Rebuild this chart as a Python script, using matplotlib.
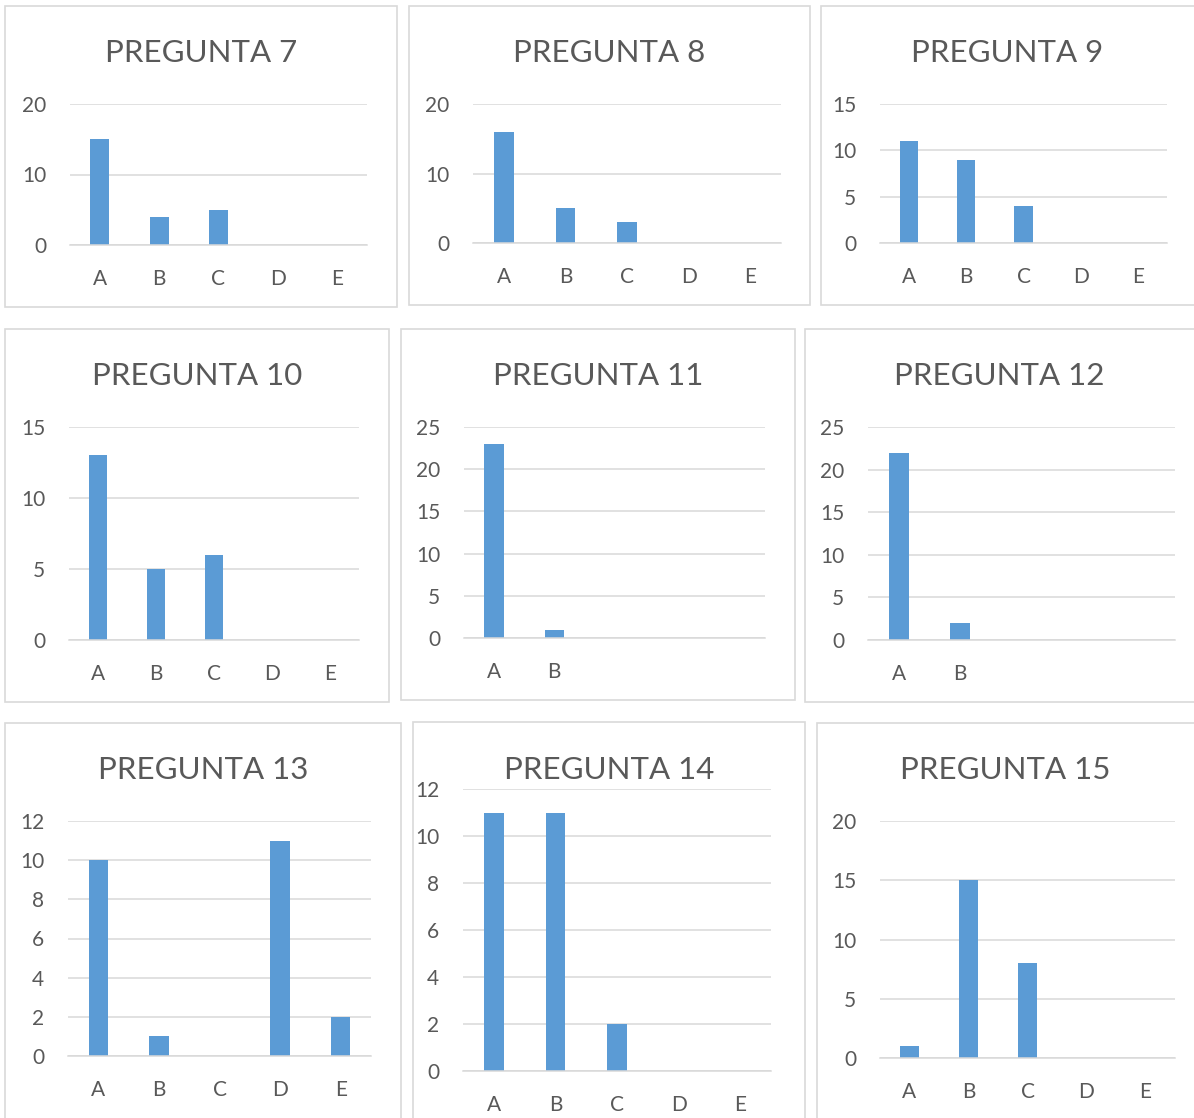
import matplotlib
matplotlib.use("Agg")
import matplotlib.pyplot as plt
from matplotlib.patches import Rectangle

plt.rcParams['font.family'] = ['Lato', 'DejaVu Sans']

# data, one list per question
letters = ['A', 'B', 'C', 'D', 'E']
titles = ['PREGUNTA 7', 'PREGUNTA 8', 'PREGUNTA 9',
          'PREGUNTA 10', 'PREGUNTA 11', 'PREGUNTA 12',
          'PREGUNTA 13', 'PREGUNTA 14', 'PREGUNTA 15']
p7 = [15, 4, 5, 0, 0]
p8 = [16, 5, 3, 0, 0]
p9 = [11, 9, 4, 0, 0]
p10 = [13, 5, 6, 0, 0]
p11 = [23, 1]
p12 = [22, 2]
p13 = [10, 1, 0, 11, 2]
p14 = [11, 11, 2, 0, 0]
p15 = [1, 15, 8, 0, 0]
values = [p7, p8, p9, p10, p11, p12, p13, p14, p15]
yticks = [[0, 10, 20], [0, 10, 20], [0, 5, 10, 15],
          [0, 5, 10, 15], [0, 5, 10, 15, 20, 25], [0, 5, 10, 15, 20, 25],
          [0, 2, 4, 6, 8, 10, 12], [0, 2, 4, 6, 8, 10, 12], [0, 5, 10, 15, 20]]

# layout in pixels: plot area (x0, x1, ytop, ybottom), box (x0, x1, y0, y1), title baseline
W, H = 1194, 1118
plot_px = [(70, 367, 104, 245), (473, 781, 104, 243), (880, 1167, 104, 243),
           (69, 359, 427, 640), (464, 765, 427, 638), (868, 1175, 427, 640),
           (68, 371, 821, 1056), (463, 771, 789, 1071), (880, 1175, 821, 1058)]
box_px = [(5, 397, 6, 307), (409, 810, 6, 305), (821, 1200, 6, 305),
          (5, 389, 329, 702), (401, 795, 329, 700), (805, 1200, 329, 702),
          (5, 401, 723, 1125), (413, 805, 722, 1125), (817, 1200, 723, 1125)]
title_y = [62, 62, 62, 385, 385, 385, 779, 779, 779]

bar_color = '#5B9BD5'
grid_color = '#D9D9D9'
text_color = '#595959'

fig = plt.figure(figsize=(W / 100, H / 100), dpi=100)

for i in range(9):
    bx0, bx1, by0, by1 = box_px[i]
    fig.patches.append(Rectangle((bx0 / W, 1 - by1 / H), (bx1 - bx0) / W, (by1 - by0) / H,
                                 transform=fig.transFigure, facecolor='white',
                                 edgecolor=grid_color, linewidth=1.2, zorder=-5))
    fig.text((bx0 + min(bx1, W)) / 2 / W, 1 - title_y[i] / H, titles[i],
             ha='center', va='baseline', fontsize=22.5, color=text_color)

    x0, x1, yt, yb = plot_px[i]
    ax = fig.add_axes([x0 / W, 1 - yb / H, (x1 - x0) / W, (yb - yt) / H])
    vals = values[i]
    ax.bar(range(len(vals)), vals, width=0.32, color=bar_color, zorder=3)
    ax.set_xlim(-0.5, 4.5)
    ax.set_ylim(0, yticks[i][-1])
    ax.set_yticks(yticks[i])
    ax.set_xticks(range(len(vals)))
    ax.set_xticklabels(letters[:len(vals)])
    ax.grid(axis='y', color=grid_color, linewidth=1.1, zorder=0)
    ax.set_axisbelow(True)
    for s in ['top', 'right', 'left']:
        ax.spines[s].set_visible(False)
    ax.spines['bottom'].set_color(grid_color)
    ax.spines['bottom'].set_linewidth(1.1)
    ax.spines['bottom'].set_zorder(4)
    ax.tick_params(axis='both', length=0, labelsize=15, colors=text_color)
    ax.tick_params(axis='y', pad=17)
    ax.tick_params(axis='x', pad=17)
    ax.patch.set_alpha(0)

fig.savefig('out.png', dpi=100)
